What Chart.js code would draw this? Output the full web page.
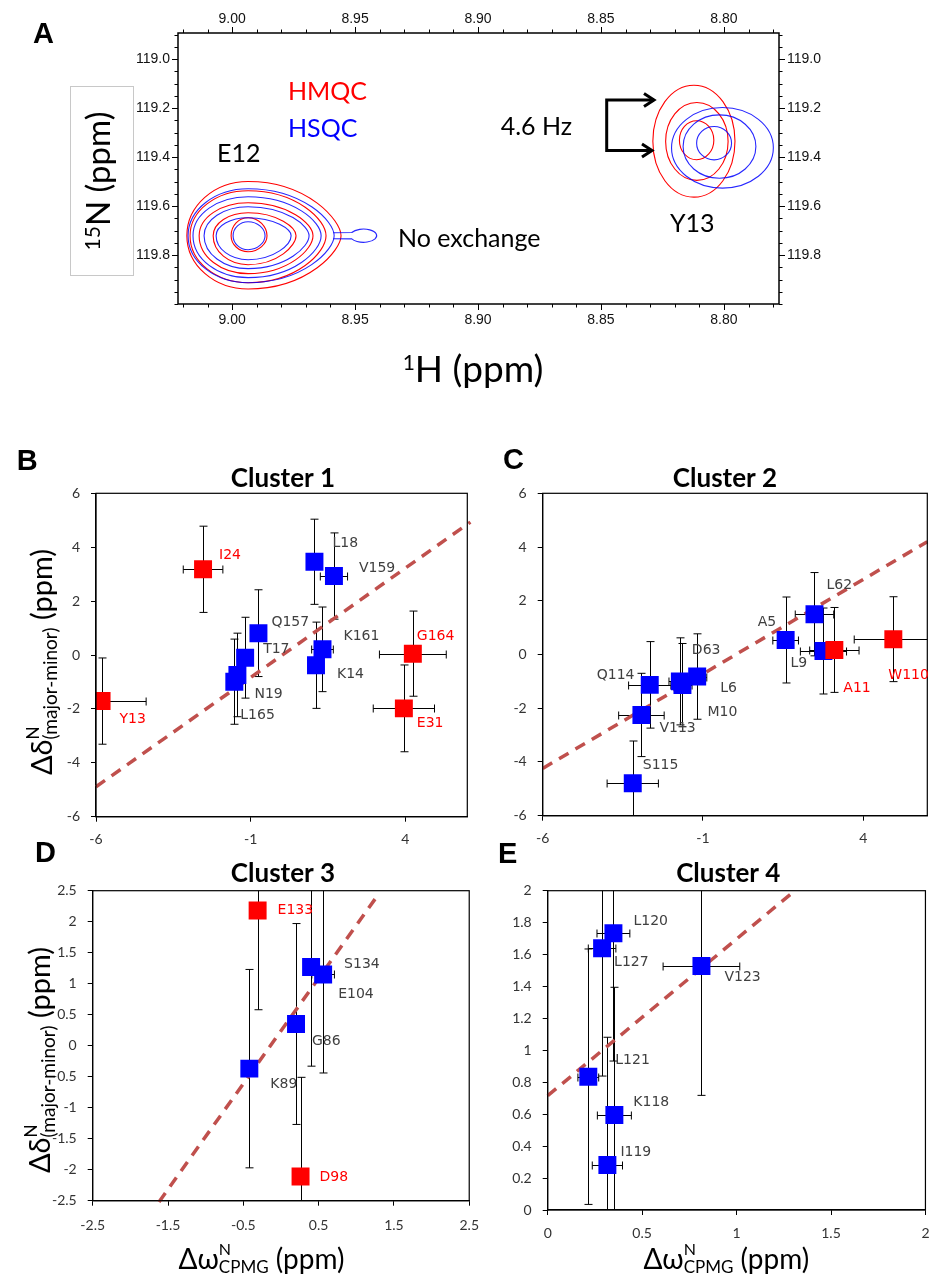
<!DOCTYPE html>
<html>
<head>
<meta charset="utf-8">
<title>HMQC / HSQC and cluster plots</title>
<script src="https://cdn.jsdelivr.net/npm/chart.js"></script>
<style>
  body { margin: 0; background: #fff; }
  #page { position: relative; width: 940px; height: 1276px; overflow: hidden; }
  canvas { position: absolute; }
</style>
</head>
<body>
<div id="page">
  <canvas id="chartA" style="left:0;top:0" width="940" height="400"></canvas>
  <canvas id="chartB" style="left:0;top:440px" width="480" height="410"></canvas>
  <canvas id="chartC" style="left:470px;top:440px" width="470" height="410"></canvas>
  <canvas id="chartD" style="left:0;top:840px" width="490" height="436"></canvas>
  <canvas id="chartE" style="left:470px;top:840px" width="470" height="436"></canvas>
</div>
<script>
// ---------- panel A: spectrum ----------
const hTicks = [9.00, 8.95, 8.90, 8.85, 8.80];
const nTicks = [119.0, 119.2, 119.4, 119.6, 119.8];

// contour rings: [1H centre, 15N centre, half-width toward high 1H, toward low 1H, toward low 15N, toward high 15N]
const e12Hmqc = [
  [8.9935, 119.721, 0.0249, 0.0378, 0.2217, 0.2176],
  [8.9935, 119.721, 0.0236, 0.0317, 0.1837, 0.1919],
  [8.9935, 119.721, 0.0199, 0.0264, 0.1347, 0.1551],
  [8.9935, 119.721, 0.0142, 0.0195, 0.0939, 0.1184],
  [8.9935, 119.721, 0.0069, 0.0077, 0.0735, 0.0653]
];
const e12Hsqc = [
  [8.9935, 119.721, 0.0244, 0.0350, 0.1919, 0.1919],
  [8.9935, 119.721, 0.0224, 0.0297, 0.1592, 0.1714],
  [8.9935, 119.721, 0.0179, 0.0248, 0.1184, 0.1347],
  [8.9935, 119.721, 0.0130, 0.0175, 0.0735, 0.0980],
  [8.9935, 119.721, 0.0061, 0.0069, 0.0571, 0.0571]
];
const e12HsqcTail = [8.9412, 0.0054, 0.027];   // end, bulb half-width, bulb half-height
const y13Hmqc = [
  [8.8122, 119.335, 0.0167, 0.0167, 0.2286, 0.2286],
  [8.8110, 119.336, 0.0127, 0.0127, 0.1592, 0.1592],
  [8.8111, 119.331, 0.0070, 0.0070, 0.0796, 0.0796]
];
const y13Hsqc = [
  [8.8006, 119.362, 0.0207, 0.0207, 0.1645, 0.1645],
  [8.8018, 119.357, 0.0148, 0.0148, 0.1294, 0.1294],
  [8.8040, 119.343, 0.0071, 0.0071, 0.0682, 0.0682]
];

// ---------- panels B-E: clusters ----------
const c1Names = ['Y13', 'I24', 'L165', 'N19', 'T17', 'Q157', 'L18', 'V159', 'K161', 'K14', 'G164', 'E31'];
const c1X     = [-5.82, -2.54, -1.53, -1.43, -1.18, -0.75, 1.06, 1.69, 1.32, 1.11, 4.24, 3.95];
const c1Y     = [-1.71, 3.18, -0.99, -0.74, -0.1, 0.81, 3.46, 2.93, 0.21, -0.38, 0.05, -1.98];
const c1XErr  = [1.44, 0.64, 0.25, 0.2, 0.25, 0.2, 0.25, 0.44, 0.35, 0.2, 1.08, 0.99];
const c1YErr  = [1.6, 1.6, 1.58, 1.55, 1.5, 1.61, 1.58, 1.6, 1.57, 1.6, 1.58, 1.61];
const c1Fit   = [[-6, -4.89], [6.1, 4.93]];

const c2Names = ['S115', 'V113', 'Q114', 'D63', 'M10', 'L6', 'A5', 'L62', 'L9', 'A11', 'W110'];
const c2X     = [-3.19, -2.92, -2.66, -1.72, -1.64, -1.18, 1.58, 2.48, 2.76, 3.1, 4.94];
const c2Y     = [-4.79, -2.25, -1.13, -1.0, -1.14, -0.82, 0.54, 1.5, 0.13, 0.17, 0.57];
const c2XErr  = [0.8, 0.71, 0.66, 0.34, 0.3, 0.3, 0.4, 0.6, 0.72, 0.77, 1.22];
const c2YErr  = [1.57, 1.55, 1.61, 1.62, 1.55, 1.59, 1.6, 1.55, 1.6, 1.58, 1.58];
const c2Fit   = [[-6, -4.24], [6, 4.2]];

const c3Names = ['E133', 'K89', 'G86', 'S134', 'E104', 'D98'];
const c3X     = [-0.31, -0.42, 0.2, 0.4, 0.56, 0.26];
const c3Y     = [2.18, -0.37, 0.35, 1.27, 1.15, -2.11];
const c3XErr  = [0.03, 0.03, 0.03, 0.1, 0.15, 0.03];
const c3YErr  = [1.6, 1.6, 1.62, 1.6, 1.59, 1.6];
const c3Fit   = [[-1.62, -2.52], [1.27, 2.4]];

const c4Names = ['L120', 'L127', 'V123', 'L121', 'K118', 'I119'];
const c4X     = [0.348, 0.288, 0.814, 0.215, 0.353, 0.316];
const c4Y     = [1.733, 1.639, 1.528, 0.835, 0.595, 0.282];
const c4XErr  = [0.087, 0.073, 0.203, 0.055, 0.09, 0.08];
const c4YErr  = [0.8, 0.8, 0.81, 0.8, 0.8, 0.8];
const c4Fit   = [[0, 0.716], [1.292, 1.984]];

const redNames = ['Y13', 'I24', 'G164', 'E31', 'A11', 'W110', 'E133', 'D98'];

const tickWide   = [-6, -1, 4];
const tickDelta  = [-6, -4, -2, 0, 2, 4, 6];
const tickC3X    = [-2.5, -1.5, -0.5, 0.5, 1.5, 2.5];
const tickC3Y    = [-2.5, -2, -1.5, -1, -0.5, 0, 0.5, 1, 1.5, 2, 2.5];
const tickC4X    = [0, 0.5, 1, 1.5, 2];
const tickC4Y    = [0, 0.2, 0.4, 0.6, 0.8, 1, 1.2, 1.4, 1.6, 1.8, 2];

// label placement next to each square, in pixels [dx to text start, dy to text middle]
const labelOffsets = {
  Y13: [18, 18], I24: [16, -14], L165: [6, 34], N19: [17, 19], T17: [18, -8], Q157: [13, -11],
  L18: [18, -18], V159: [25, -8], K161: [21, -13], K14: [21, 9], G164: [4, -17], E31: [13, 15],
  S115: [10, -18], V113: [18, 13], Q114: [-53, -9], D63: [12, -31], M10: [25, 27], L6: [23, 12],
  A5: [-28, -18], L62: [12, -29], L9: [-33, 12], A11: [9, 38], W110: [-5, 36],
  E133: [20, 0], K89: [21, 16], G86: [16, 17], S134: [33, -3], E104: [15, 20], D98: [19, 1],
  L120: [20, -12], L127: [12, 14], V123: [23, 11], L121: [27, -16], K118: [19, -13], I119: [13, -13]
};

const RED = '#ff0000', BLUE = '#0000ff', FIT = '#c0504d';

// text with super/subscripts; a part with stack:true shares its x with the next part
function richWidth(ctx, parts) {
  let w = 0, i = 0;
  while (i < parts.length) {
    ctx.font = parts[i].f;
    let adv = ctx.measureText(parts[i].t).width;
    if (parts[i].stack && parts[i + 1]) {
      ctx.font = parts[i + 1].f;
      adv = Math.max(adv, ctx.measureText(parts[i + 1].t).width);
      i += 2;
    } else i++;
    w += adv;
  }
  return w;
}
function drawRich(ctx, parts, x, y) {
  let cx = x - richWidth(ctx, parts) / 2;
  ctx.textAlign = 'left';
  ctx.textBaseline = 'alphabetic';
  let i = 0;
  while (i < parts.length) {
    const p = parts[i];
    ctx.font = p.f;
    ctx.fillText(p.t, cx, y + (p.dy || 0));
    let adv = ctx.measureText(p.t).width;
    if (p.stack && parts[i + 1]) {
      const q = parts[i + 1];
      ctx.font = q.f;
      ctx.fillText(q.t, cx, y + (q.dy || 0));
      adv = Math.max(adv, ctx.measureText(q.t).width);
      i += 2;
    } else i++;
    cx += adv;
  }
}

// teardrop / ellipse contour from pixel extents
function ring(ctx, x0, y0, L, R, U, D) {
  const k = 0.5523;
  const sharp = Math.min(1, Math.max(0, (R / L - 1) / 0.5));
  const b = 0.55 - 0.28 * sharp;
  const a = 0.55 + 0.1 * sharp;
  ctx.beginPath();
  ctx.moveTo(x0, y0 - U);
  ctx.bezierCurveTo(x0 + R * a, y0 - U, x0 + R, y0 - U * b, x0 + R, y0);
  ctx.bezierCurveTo(x0 + R, y0 + D * b, x0 + R * a, y0 + D, x0, y0 + D);
  ctx.bezierCurveTo(x0 - L * k, y0 + D, x0 - L, y0 + D * k, x0 - L, y0);
  ctx.bezierCurveTo(x0 - L, y0 - U * k, x0 - L * k, y0 - U, x0, y0 - U);
  ctx.closePath();
  ctx.stroke();
}

const nmrPlugin = {
  id: 'nmr',
  afterDraw(chart) {
    const { ctx, chartArea: a, scales } = chart;
    const X = v => scales.x.getPixelForValue(v);
    const Y = v => scales.y.getPixelForValue(v);
    ctx.save();

    // tick marks (major + minor) on all four sides
    ctx.strokeStyle = '#000';
    ctx.lineWidth = 1;
    ctx.beginPath();
    for (let i = 878; i <= 902; i++) {
      const v = i / 100, px = Math.round(X(v)) + 0.5;
      if (px < a.left - 0.5 || px > a.right + 0.5) continue;
      const len = hTicks.some(t => Math.abs(t - v) < 1e-6) ? 6 : 3.5;
      ctx.moveTo(px, a.top); ctx.lineTo(px, a.top - len);
      ctx.moveTo(px, a.bottom); ctx.lineTo(px, a.bottom + len);
    }
    for (let i = 2378; i <= 2400; i++) {
      const v = i / 20, py = Math.round(Y(v)) + 0.5;
      if (py < a.top - 0.5 || py > a.bottom + 0.5) continue;
      const len = nTicks.some(t => Math.abs(t - v) < 1e-6) ? 6 : 3.5;
      ctx.moveTo(a.left, py); ctx.lineTo(a.left - len, py);
      ctx.moveTo(a.right, py); ctx.lineTo(a.right + len, py);
    }
    ctx.stroke();
    ctx.lineWidth = 1.5;
    ctx.strokeRect(a.left, a.top, a.right - a.left, a.bottom - a.top);

    // contours
    ctx.save();
    ctx.beginPath();
    ctx.rect(a.left, a.top, a.right - a.left, a.bottom - a.top);
    ctx.clip();
    ctx.lineWidth = 1.1;
    const drawSet = (rings, color) => {
      ctx.strokeStyle = color;
      rings.forEach(r => {
        const x0 = X(r[0]), y0 = Y(r[1]);
        ring(ctx, x0, y0, x0 - X(r[0] + r[2]), X(r[0] - r[3]) - x0, y0 - Y(r[1] - r[4]), Y(r[1] + r[5]) - y0);
      });
    };
    drawSet(e12Hmqc, RED);
    drawSet(e12Hsqc, 'rgba(0,0,255,0.85)');
    drawSet(y13Hmqc, RED);
    drawSet(y13Hsqc, 'rgba(0,0,255,0.85)');
    // thin tail on the outer HSQC contour of E12
    const o = e12Hsqc[0];
    const tipX = X(o[0] - o[3]), yc = Y(o[1]);
    const rx = X(e12HsqcTail[0]) - X(e12HsqcTail[0] + e12HsqcTail[1]);
    const ry = Y(o[1] + e12HsqcTail[2]) - yc;
    const bx = X(e12HsqcTail[0]) - rx;
    ctx.beginPath();
    ctx.moveTo(tipX - 1, yc - 3);
    ctx.ellipse(bx, yc, rx, ry, 0, -Math.PI + 0.5, Math.PI - 0.5);
    ctx.lineTo(tipX - 1, yc + 3);
    ctx.stroke();
    ctx.restore();

    // annotations
    ctx.textAlign = 'left';
    ctx.textBaseline = 'alphabetic';
    ctx.font = '25px Lato';
    ctx.fillStyle = RED;  ctx.fillText('HMQC', 288, 100);
    ctx.fillStyle = BLUE; ctx.fillText('HSQC', 288, 136.7);
    ctx.fillStyle = '#000';
    ctx.fillText('E12', 217, 161.7);
    ctx.fillText('No exchange', 398, 246.7);
    ctx.fillText('4.6 Hz', 500.7, 135);
    ctx.fillText('Y13', 670, 231.7);

    // bracket arrow
    ctx.strokeStyle = '#000';
    ctx.lineWidth = 3;
    ctx.lineJoin = 'miter';
    ctx.beginPath();
    ctx.moveTo(654, 100); ctx.lineTo(606.7, 100); ctx.lineTo(606.7, 150.5); ctx.lineTo(652, 150.5);
    ctx.stroke();
    ctx.beginPath();
    ctx.moveTo(644, 93.5); ctx.lineTo(654, 100); ctx.lineTo(644, 106.5);
    ctx.moveTo(642, 144); ctx.lineTo(652, 150.5); ctx.lineTo(642, 157);
    ctx.stroke();

    // panel letter
    ctx.font = 'bold 29px "Liberation Sans"';
    ctx.fillText('A', 33, 42.7);

    // axis titles
    drawRich(ctx, [{ t: '1', f: '21px Lato', dy: -12 }, { t: 'H (ppm)', f: '37px Lato' }], 473, 381.7);
    ctx.strokeStyle = '#c8c8c8';
    ctx.lineWidth = 1;
    ctx.strokeRect(70.5, 86.5, 63, 189);
    ctx.save();
    ctx.translate(110, 181);
    ctx.rotate(-Math.PI / 2);
    ctx.fillStyle = '#000';
    drawRich(ctx, [{ t: '15', f: '21px Lato', dy: -10 }, { t: 'N (ppm)', f: '33px Lato' }], 0, 0);
    ctx.restore();
    ctx.restore();
  }
};

const tickFontA = { family: 'Liberation Sans', size: 14 };
const fixedTicks = arr => s => { s.ticks = arr.map(v => ({ value: v })); };

new Chart(document.getElementById('chartA'), {
  type: 'scatter',
  data: { datasets: [] },
  options: {
    responsive: false,
    animation: false,
    events: [],
    layout: { padding: 0 },
    plugins: { legend: { display: false }, tooltip: { enabled: false } },
    scales: {
      x: {
        type: 'linear', axis: 'x', position: 'bottom', reverse: true, min: 8.7776, max: 9.022,
        afterBuildTicks: fixedTicks(hTicks),
        afterFit: s => { s.height = 96; },
        grid: { display: false, drawTicks: false }, border: { display: false },
        ticks: { padding: 8, color: '#111', font: tickFontA, maxRotation: 0, autoSkip: false,
                 callback: v => Number(v).toFixed(2) }
      },
      xTop: {
        type: 'linear', axis: 'x', position: 'top', reverse: true, min: 8.7776, max: 9.022,
        afterBuildTicks: fixedTicks(hTicks),
        afterFit: s => { s.height = 33; },
        grid: { display: false, drawTicks: false }, border: { display: false },
        ticks: { padding: 5, color: '#111', font: tickFontA, maxRotation: 0, autoSkip: false,
                 callback: v => Number(v).toFixed(2) }
      },
      y: {
        type: 'linear', axis: 'y', position: 'left', reverse: true, min: 118.893, max: 120.0,
        afterBuildTicks: fixedTicks(nTicks),
        afterFit: s => { s.width = 178; },
        grid: { display: false, drawTicks: false }, border: { display: false },
        ticks: { padding: 8, color: '#111', font: tickFontA, autoSkip: false,
                 callback: v => Number(v).toFixed(1) }
      },
      yRight: {
        type: 'linear', axis: 'y', position: 'right', reverse: true, min: 118.893, max: 120.0,
        afterBuildTicks: fixedTicks(nTicks),
        afterFit: s => { s.width = 161; },
        grid: { display: false, drawTicks: false }, border: { display: false },
        ticks: { padding: 8, color: '#111', font: tickFontA, autoSkip: false,
                 callback: v => Number(v).toFixed(1) }
      }
    }
  },
  plugins: [nmrPlugin]
});

// ---------- cluster charts ----------
const yTitleParts = [
  { t: '\u0394\u03b4', f: '29px Lato' },
  { t: 'N', f: '17px Lato', dy: -13, stack: true },
  { t: '(major-minor)', f: '19px Lato', dy: 5 },
  { t: ' (ppm)', f: '29px Lato' }
];
const xTitleParts = [
  { t: '\u0394\u03c9', f: '28px Lato' },
  { t: 'N', f: '16px Lato', dy: -14, stack: true },
  { t: 'CPMG', f: '17px Lato', dy: 4 },
  { t: ' (ppm)', f: '28px Lato' }
];

function clusterChart(id, d) {
  const pts = d.x.map((x, i) => ({ x, y: d.y[i] }));
  const decor = {
    id: 'decor' + id,
    beforeDatasetsDraw(chart) {
      const { ctx, chartArea: a, scales: { x, y } } = chart;
      ctx.save();
      ctx.beginPath();
      ctx.rect(a.left, a.top, a.right - a.left, a.bottom - a.top);
      ctx.clip();
      ctx.strokeStyle = '#000';
      ctx.lineWidth = 1;
      ctx.beginPath();
      pts.forEach((p, i) => {
        const px = Math.round(x.getPixelForValue(p.x)) + 0.5;
        const py = Math.round(y.getPixelForValue(p.y)) + 0.5;
        const x0 = x.getPixelForValue(p.x - d.xErr[i]), x1 = x.getPixelForValue(p.x + d.xErr[i]);
        const y0 = y.getPixelForValue(p.y - d.yErr[i]), y1 = y.getPixelForValue(p.y + d.yErr[i]);
        ctx.moveTo(px, y0); ctx.lineTo(px, y1);
        ctx.moveTo(px - 4, y0); ctx.lineTo(px + 4, y0);
        ctx.moveTo(px - 4, y1); ctx.lineTo(px + 4, y1);
        ctx.moveTo(x0, py); ctx.lineTo(x1, py);
        ctx.moveTo(x0, py - 4); ctx.lineTo(x0, py + 4);
        ctx.moveTo(x1, py - 4); ctx.lineTo(x1, py + 4);
      });
      ctx.stroke();
      ctx.restore();
    },
    afterDraw(chart) {
      const { ctx, chartArea: a, scales: { x, y } } = chart;
      ctx.save();
      ctx.strokeStyle = '#000';
      ctx.lineWidth = 1.2;
      ctx.strokeRect(a.left, a.top, a.right - a.left, a.bottom - a.top);

      // point labels
      ctx.font = '14px "DejaVu Sans"';
      ctx.textAlign = 'left';
      ctx.textBaseline = 'middle';
      pts.forEach((p, i) => {
        const name = d.names[i], off = labelOffsets[name];
        ctx.fillStyle = redNames.includes(name) ? RED : '#404040';
        ctx.fillText(name, x.getPixelForValue(p.x) + off[0], y.getPixelForValue(p.y) + off[1]);
      });

      // title and panel letter
      ctx.textBaseline = 'alphabetic';
      ctx.fillStyle = '#000';
      ctx.textAlign = 'center';
      ctx.font = 'bold 26px Lato';
      ctx.fillText(d.title, d.titlePos[0], d.titlePos[1]);
      ctx.textAlign = 'left';
      ctx.font = 'bold 29px "Liberation Sans"';
      ctx.fillText(d.letter, d.letterPos[0], d.letterPos[1]);

      if (d.yTitlePos) {
        ctx.save();
        ctx.translate(d.yTitlePos[0], d.yTitlePos[1]);
        ctx.rotate(-Math.PI / 2);
        drawRich(ctx, yTitleParts, 0, 0);
        ctx.restore();
      }
      if (d.xTitlePos) drawRich(ctx, xTitleParts, d.xTitlePos[0], d.xTitlePos[1]);
      ctx.restore();
    }
  };

  const tickFont = { family: 'Lato', size: 14 };
  return new Chart(document.getElementById(id), {
    type: 'scatter',
    data: {
      datasets: [
        {
          data: pts,
          pointStyle: 'rect',
          pointRadius: 12.7,
          pointHoverRadius: 12.7,
          pointBorderWidth: 0,
          pointBackgroundColor: c => redNames.includes(d.names[c.dataIndex]) ? RED : BLUE
        },
        {
          type: 'line',
          data: d.fit.map(f => ({ x: f[0], y: f[1] })),
          borderColor: FIT,
          borderWidth: 3.5,
          borderDash: [11, 8],
          pointRadius: 0,
          fill: false,
          clip: 6
        }
      ]
    },
    options: {
      responsive: false,
      animation: false,
      events: [],
      layout: { padding: { top: d.padTop, right: d.padRight, left: 0, bottom: 0 } },
      plugins: { legend: { display: false }, tooltip: { enabled: false } },
      scales: {
        x: {
          type: 'linear', min: d.xRange[0], max: d.xRange[1],
          afterBuildTicks: fixedTicks(d.xTicks),
          afterFit: s => { s.height = d.xAxisH; },
          grid: { drawOnChartArea: false, tickLength: 5, color: '#000' },
          border: { color: '#000', width: 1.2 },
          ticks: { padding: d.xPad, color: '#333', font: tickFont, maxRotation: 0, autoSkip: false,
                   callback: v => String(v) }
        },
        y: {
          type: 'linear', min: d.yRange[0], max: d.yRange[1],
          afterBuildTicks: fixedTicks(d.yTicks),
          afterFit: s => { s.width = d.yAxisW; },
          grid: { drawOnChartArea: false, tickLength: 5, color: '#000' },
          border: { color: '#000', width: 1.2 },
          ticks: { padding: 11, color: '#333', font: tickFont, autoSkip: false,
                   callback: v => String(v) }
        }
      }
    },
    plugins: [decor]
  });
}

clusterChart('chartB', {
  names: c1Names, x: c1X, y: c1Y, xErr: c1XErr, yErr: c1YErr, fit: c1Fit,
  xRange: [-6, 6], yRange: [-6, 6], xTicks: tickWide, yTicks: tickDelta,
  padTop: 53.3, padRight: 4.3, yAxisW: 96, xAxisH: 33.3, xPad: 9,
  title: 'Cluster 1', titlePos: [283, 46.7], letter: 'B', letterPos: [16.7, 30],
  yTitlePos: [52, 222]
});
clusterChart('chartC', {
  names: c2Names, x: c2X, y: c2Y, xErr: c2XErr, yErr: c2YErr, fit: c2Fit,
  xRange: [-6, 6], yRange: [-6, 6], xTicks: tickWide, yTicks: tickDelta,
  padTop: 53.3, padRight: 8.3, yAxisW: 72.7, xAxisH: 34.3, xPad: 9,
  title: 'Cluster 2', titlePos: [255, 46.7], letter: 'C', letterPos: [33, 29]
});
clusterChart('chartD', {
  names: c3Names, x: c3X, y: c3Y, xErr: c3XErr, yErr: c3YErr, fit: c3Fit,
  xRange: [-2.5, 2.5], yRange: [-2.5, 2.5], xTicks: tickC3X, yTicks: tickC3Y,
  padTop: 50.7, padRight: 17.7, yAxisW: 92.7, xAxisH: 75.3, xPad: 11,
  title: 'Cluster 3', titlePos: [283, 41.7], letter: 'D', letterPos: [35, 22],
  yTitlePos: [50, 220], xTitlePos: [261.5, 428.7]
});
clusterChart('chartE', {
  names: c4Names, x: c4X, y: c4Y, xErr: c4XErr, yErr: c4YErr, fit: c4Fit,
  xRange: [0, 2], yRange: [0, 2], xTicks: tickC4X, yTicks: tickC4Y,
  padTop: 50.7, padRight: 0.7, yAxisW: 77.7, xAxisH: 66, xPad: 10.5,
  title: 'Cluster 4', titlePos: [258.3, 41.7], letter: 'E', letterPos: [28, 23],
  xTitlePos: [256.3, 428.7]
});
</script>
</body>
</html>
